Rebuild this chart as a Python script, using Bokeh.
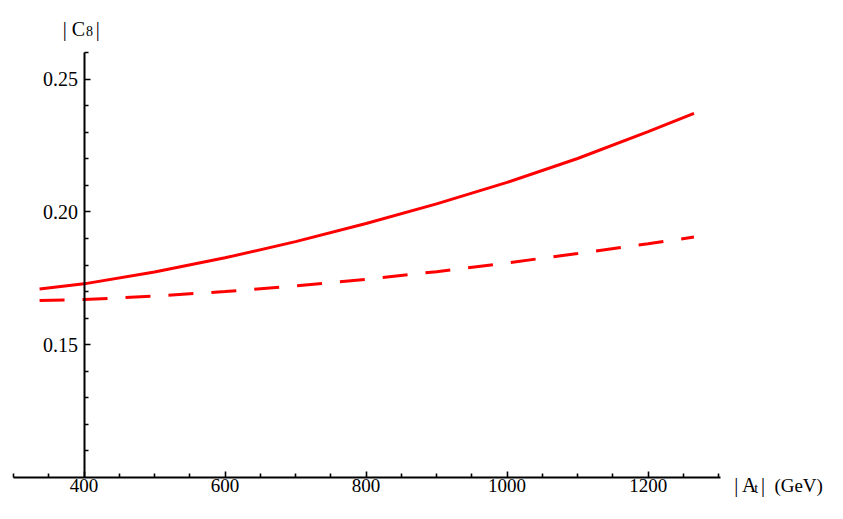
from bokeh.plotting import figure
from bokeh.models import LinearAxis, FixedTicker, PrintfTickFormatter, Label, Range1d
from bokeh.embed import file_html
from bokeh.resources import INLINE

# ---- data ----
at_values = [337, 400, 500, 600, 700, 800, 900, 1000, 1100, 1200, 1265]
c8_solid = [0.1710, 0.1729, 0.1774, 0.1827, 0.1888, 0.1956, 0.2030, 0.2111, 0.2201, 0.2302, 0.2371]
c8_dashed = [0.1666, 0.1670, 0.1683, 0.1700, 0.1721, 0.1746, 0.1775, 0.1808, 0.1843, 0.1880, 0.1905]

x_major_ticks = [400, 600, 800, 1000, 1200]
x_minor_ticks = [300, 350, 450, 500, 550, 650, 700, 750, 850, 900, 950, 1050, 1100, 1150, 1250, 1300]
y_major_ticks = [0.15, 0.20, 0.25]
y_minor_ticks = [0.11, 0.12, 0.13, 0.14, 0.16, 0.17, 0.18, 0.19, 0.21, 0.22, 0.23, 0.24, 0.26]

x_label_main = "| A"
x_label_sub = "t"
x_label_bar = "|"
x_label_unit = "(GeV)"
y_label_main = "| C"
y_label_sub = "8"
y_label_tail = "|"

W, H = 827, 503
FONT = "Liberation Serif"
XS = 0.7052        # px per GeV
YS = 2656.25       # px per unit of |C8|
X0 = 400 - 83.5 / XS
YTOP = 0.26 + 52 / YS

p = figure(width=W, height=H, output_backend="svg", toolbar_location=None,
           x_axis_location=None, y_axis_location=None,
           x_range=Range1d(X0, X0 + W / XS),
           y_range=Range1d(YTOP - H / YS, YTOP),
           min_border=0, min_border_left=0, min_border_right=0,
           min_border_top=0, min_border_bottom=0)
p.outline_line_color = None
p.background_fill_color = "white"
p.border_fill_color = "white"
p.grid.visible = False

# x axis crossing at y = 0.10
xa = LinearAxis(fixed_location=0.10, bounds=(300, 1302),
                ticker=FixedTicker(ticks=x_major_ticks, minor_ticks=x_minor_ticks))
# y axis crossing at x = 400
ya = LinearAxis(fixed_location=400, bounds=(0.10, 0.26),
                ticker=FixedTicker(ticks=y_major_ticks, minor_ticks=y_minor_ticks),
                formatter=PrintfTickFormatter(format="%.2f"))
for ax in (xa, ya):
    ax.axis_line_color = "black"
    ax.axis_line_width = 2
    ax.major_tick_line_color = "black"
    ax.minor_tick_line_color = "black"
    ax.major_tick_line_width = 1.6
    ax.minor_tick_line_width = 1.6
    ax.major_tick_out = 0
    ax.minor_tick_out = 0
    ax.major_tick_in = 6
    ax.minor_tick_in = 4
    ax.major_label_text_font = FONT
    ax.major_label_text_font_size = "20px"
    ax.major_label_text_color = "black"
xa.major_label_text_font_size = "19px"
xa.major_label_standoff = 1
ya.major_label_standoff = 6
p.add_layout(xa, "below")
p.add_layout(ya, "left")

p.line(at_values, c8_solid, line_color="#ff0000", line_width=3)
p.line(at_values, c8_dashed, line_color="#ff0000", line_width=3, line_dash="25 18")

# axis labels (Mathematica style, at the ends of the axes)
def lab(txt, x, y, size):
    p.add_layout(Label(x=x, y=y, text=txt, text_font=FONT, text_font_size=size,
                       text_color="black", text_align="left", text_baseline="alphabetic"))

lab(y_label_main, 370.0, 0.26903, "20px")
lab(y_label_sub, 403.0, 0.26828, "14px")
lab(y_label_tail, 416.5, 0.26903, "20px")
lab(x_label_main, 1322.0, 0.09699, "20px")
lab(x_label_sub, 1350.5, 0.09586, "14px")
lab(x_label_bar, 1360.0, 0.09699, "20px")
lab(x_label_unit, 1379.0, 0.09699, "19px")

open("out.html", "w").write(file_html(p, INLINE))
